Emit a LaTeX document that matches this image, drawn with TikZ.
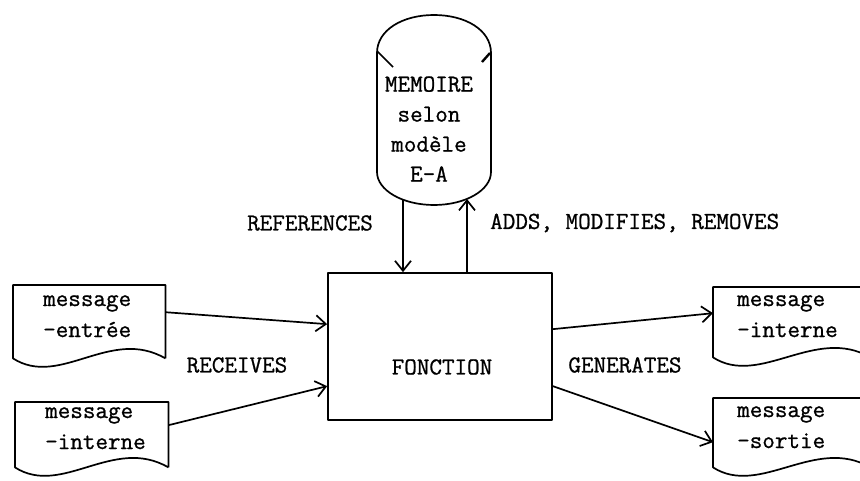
\documentclass[tikz,border=0pt]{standalone}
\usepackage{fontspec}
\newfontfamily\typewriter{Latin Modern Mono}[FakeBold=0.9]
\usetikzlibrary{arrows.meta,calc}
\newcommand\docoutline[2]{%
  \draw[line] ([yshift=-#2pt]#1.south east) -- (#1.north east) -- (#1.north west)
    -- ([yshift=-#2pt]#1.south west) .. controls +(47,30) and +(-55,-32) .. ([yshift=-#2pt]#1.south east);}
\begin{document}
\begin{tikzpicture}[x=1pt,y=-1pt,
  line/.style={line width=1.7pt, line join=round},
  arr/.style={line, -{Straight Barb[length=10pt,width=16pt,line width=1.7pt]}},
  lbl/.style={font=\fontsize{24.4}{30}\selectfont\typewriter, inner sep=0pt},
  doc/.style={lbl, anchor=north west, align=left, font=\fontsize{24.4}{31}\selectfont\typewriter}]
\useasboundingbox (0,0) rectangle (860,481);
\clip (0,0) rectangle (860,481);
\fill[white] (0,0) rectangle (860,481);

% FONCTION box
\node[line, draw, minimum width=224pt, minimum height=147pt, inner sep=0pt] (fn) at (440,346.5) {};
\node[lbl] (fnlabel) at (442,367) {FONCTION};

% memory drum
\draw[line] (377,53) .. controls (377,30) and (402.5,15) .. (434,15)
  .. controls (465.5,15) and (491,30) .. (491,53)
  -- (491,172) .. controls (491,190.2) and (465.5,205) .. (434,205)
  .. controls (402.5,205) and (377,190.2) .. (377,172) -- cycle;
\draw[line] (377,51) -- (393,67);
\draw[line, line width=2.4pt] (490,53) -- (482,62);
\node[lbl, align=center] (mem) at (429,129) {MEMOIRE\\selon\\modèle\\E-A};
\coordinate (mdown) at (403,200);
\coordinate (mup) at (467,199);
\draw[arr] (mdown) -- (mdown |- fn.north);
\draw[arr] (mup |- fn.north) -- (mup);
\node[lbl] (refs) at (310,223) {REFERENCES};
\node[lbl, anchor=west] (adds) at (490,223) {ADDS, MODIFIES, REMOVES};

% documents
\node[doc, minimum width=152pt, minimum height=62pt, text width=92pt] (d1) at (13,285) {\mbox{message}\\\mbox{-entrée}};
\node[doc, minimum width=153pt, minimum height=52pt, text width=93pt] (d2) at (15,402) {\mbox{message}\\\mbox{-interne}};
\node[doc, minimum width=157pt, minimum height=58pt, text width=109pt] (r1) at (713,287) {\mbox{message}\\\mbox{-interne}};
\node[doc, minimum width=157pt, minimum height=58pt, text width=109pt] (r2) at (713,398) {\mbox{message}\\\mbox{-sortie}};
\docoutline{d1}{11}
\docoutline{d2}{13}
\docoutline{r1}{12}
\docoutline{r2}{11}

% connectors
\draw[arr] ([yshift=4pt]d1.east) -- ($(fn.north west)+(0,52)$);
\draw[arr] ([yshift=3pt]d2.east) -- ($(fn.north west)+(0,114)$);
\draw[arr] ($(fn.north east)+(0,57)$) -- ([yshift=3pt]r1.west);
\draw[arr] ($(fn.north east)+(0,114)$) -- ([yshift=-15pt]r2.west);
\node[lbl] (recv) at (237,365) {RECEIVES};
\node[lbl] (gen) at (625,365) {GENERATES};
\end{tikzpicture}
\end{document}
